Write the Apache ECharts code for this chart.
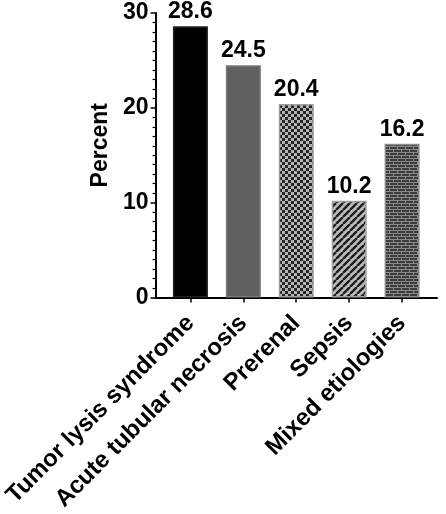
<!DOCTYPE html>
<html>
<head>
<meta charset="utf-8">
<script src="https://cdn.jsdelivr.net/npm/echarts@6/dist/echarts.min.js"></script>
<style>
  html, body { margin: 0; padding: 0; background: #fff; }
  #chart { width: 446px; height: 514px; }
</style>
</head>
<body>
<div id="chart"></div>
<script>
const categories = ['Tumor lysis syndrome', 'Acute tubular necrosis', 'Prerenal', 'Sepsis', 'Mixed etiologies']
const percents = [28.6, 24.5, 20.4, 10.2, 16.2]
const yTicks = [0, 10, 20, 30]

const FONT = '"Liberation Sans", Arial, sans-serif'

// small canvas tiles for the bar fills
function tile(w, h, draw) {
  const c = document.createElement('canvas')
  c.width = w
  c.height = h
  draw(c.getContext('2d'))
  return { image: c, repeat: 'repeat' }
}

const checker = tile(6, 6, ctx => {
  ctx.fillStyle = '#b4b4b4'
  ctx.fillRect(0, 0, 6, 6)
  ctx.fillStyle = '#262626'
  ctx.fillRect(0, 0, 3, 3)
  ctx.fillRect(3, 3, 3, 3)
})

const stripes = tile(7, 7, ctx => {
  ctx.fillStyle = '#bcbcbc'
  ctx.fillRect(0, 0, 7, 7)
  ctx.strokeStyle = '#1e1e1e'
  ctx.lineWidth = 2.4
  ctx.beginPath()
  for (let k = -7; k <= 14; k += 7) {
    ctx.moveTo(k, 7)
    ctx.lineTo(k + 7, 0)
  }
  ctx.stroke()
})

const brick = tile(8, 6, ctx => {
  ctx.fillStyle = '#3c3c3c'
  ctx.fillRect(0, 0, 8, 6)
  ctx.fillStyle = '#8a8a8a'
  ctx.fillRect(0, 2, 8, 1)
  ctx.fillRect(0, 5, 8, 1)
  ctx.fillRect(1, 0, 1, 2)
  ctx.fillRect(5, 3, 1, 2)
})

const fills = ['#000000', '#606060', checker, stripes, brick]
const borders = ['#222222', '#7a7a7a', '#a0a0a0', '#a0a0a0', '#8c8c8c']

const chart = echarts.init(document.getElementById('chart'), null, { renderer: 'canvas' })

chart.setOption({
  backgroundColor: '#fff',
  animation: false,
  grid: { left: 154, right: 9, top: 13, bottom: 216, containLabel: false },
  xAxis: {
    type: 'value',
    min: -0.66,
    max: 4.66,
    splitLine: { show: false },
    axisLine: { show: true, onZero: false, lineStyle: { color: '#000', width: 2 } },
    axisTick: { show: true, customValues: categories.map((c, i) => i), length: 5, lineStyle: { color: '#000', width: 1.5 } },
    axisLabel: {
      customValues: categories.map((c, i) => i),
      formatter: v => categories[Math.round(v)],
      rotate: 45,
      margin: 22,
      color: '#000',
      fontSize: 24,
      fontWeight: 'bold',
      fontFamily: FONT,
    },
  },
  yAxis: {
    type: 'value',
    min: yTicks[0],
    max: yTicks[yTicks.length - 1],
    interval: 10,
    name: 'Percent',
    nameLocation: 'middle',
    nameRotate: 90,
    nameGap: 40,
    nameTextStyle: { color: '#000', fontSize: 23, fontWeight: 'bold', fontFamily: FONT, padding: [0, 0, 0, 20] },
    splitLine: { show: false },
    axisLine: { show: true, onZero: false, lineStyle: { color: '#000', width: 2 } },
    axisTick: { show: true, length: 5, lineStyle: { color: '#000', width: 1.5 } },
    minorTick: { show: true, splitNumber: 10, length: 3, lineStyle: { color: '#000', width: 1.2 } },
    axisLabel: {
      margin: 7,
      color: '#000',
      fontSize: 23,
      fontWeight: 'bold',
      fontFamily: FONT,
    },
  },
  series: [
    {
      type: 'bar',
      barWidth: 35,
      data: percents.map((v, i) => ({
        value: [i, v],
        itemStyle: { color: fills[i], borderColor: borders[i], borderWidth: 1.5 },
      })),
      label: {
        show: true,
        position: 'top',
        distance: 3,
        formatter: p => p.value[1].toFixed(1),
        color: '#000',
        fontSize: 23,
        fontWeight: 'bold',
        fontFamily: FONT,
      },
    },
  ],
})
</script>
</body>
</html>
